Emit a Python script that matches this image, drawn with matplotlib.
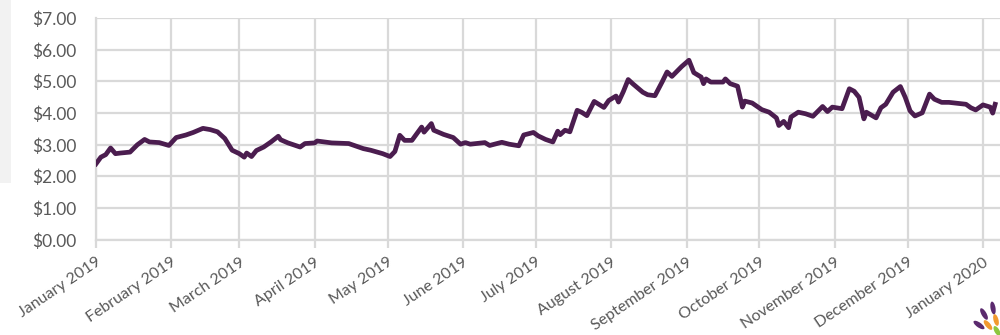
import numpy as np
import pandas as pd
import matplotlib.pyplot as plt
from matplotlib.patches import Rectangle, Ellipse

# price series
dates = ["2019-01-01", "2019-01-03", "2019-01-05", "2019-01-07", "2019-01-09", "2019-01-11",
         "2019-01-15", "2019-01-18", "2019-01-21", "2019-01-23", "2019-01-27", "2019-01-31",
         "2019-02-03", "2019-02-07", "2019-02-10", "2019-02-14", "2019-02-17", "2019-02-20",
         "2019-02-23", "2019-02-26", "2019-03-01", "2019-03-03", "2019-03-04", "2019-03-06",
         "2019-03-08", "2019-03-11", "2019-03-14", "2019-03-17", "2019-03-18", "2019-03-21",
         "2019-03-26", "2019-03-28", "2019-04-01", "2019-04-02", "2019-04-08", "2019-04-15",
         "2019-04-18", "2019-04-21", "2019-04-24", "2019-04-29", "2019-05-02", "2019-05-04",
         "2019-05-06", "2019-05-08", "2019-05-11", "2019-05-15", "2019-05-16", "2019-05-19",
         "2019-05-20", "2019-05-24", "2019-05-28", "2019-05-31", "2019-06-02", "2019-06-04",
         "2019-06-10", "2019-06-12", "2019-06-17", "2019-06-20", "2019-06-24", "2019-06-26",
         "2019-06-30", "2019-07-02", "2019-07-05", "2019-07-08", "2019-07-10", "2019-07-11",
         "2019-07-13", "2019-07-15", "2019-07-18", "2019-07-20", "2019-07-22", "2019-07-25",
         "2019-07-29", "2019-07-31", "2019-08-03", "2019-08-04", "2019-08-06", "2019-08-08",
         "2019-08-10", "2019-08-14", "2019-08-16", "2019-08-19", "2019-08-22", "2019-08-24",
         "2019-08-26", "2019-08-30", "2019-09-02", "2019-09-04", "2019-09-07", "2019-09-08",
         "2019-09-09", "2019-09-11", "2019-09-16", "2019-09-17", "2019-09-19", "2019-09-22",
         "2019-09-24", "2019-09-25", "2019-09-28", "2019-10-02", "2019-10-05", "2019-10-08",
         "2019-10-09", "2019-10-11", "2019-10-13", "2019-10-14", "2019-10-17", "2019-10-20",
         "2019-10-23", "2019-10-27", "2019-10-29", "2019-10-31", "2019-11-04", "2019-11-07",
         "2019-11-09", "2019-11-11", "2019-11-13", "2019-11-14", "2019-11-18", "2019-11-20",
         "2019-11-22", "2019-11-25", "2019-11-28", "2019-11-30", "2019-12-02", "2019-12-04",
         "2019-12-07", "2019-12-10", "2019-12-12", "2019-12-15", "2019-12-18", "2019-12-25",
         "2019-12-27", "2019-12-29", "2020-01-01", "2020-01-04", "2020-01-05", "2020-01-06"]
prices = [2.40, 2.61, 2.69, 2.90, 2.72, 2.74,
          2.77, 3.00, 3.17, 3.09, 3.07, 2.98,
          3.23, 3.31, 3.39, 3.52, 3.48, 3.41,
          3.20, 2.83, 2.72, 2.61, 2.74, 2.63,
          2.82, 2.93, 3.09, 3.27, 3.16, 3.06,
          2.93, 3.04, 3.06, 3.12, 3.06, 3.04,
          2.96, 2.88, 2.83, 2.72, 2.63, 2.79,
          3.30, 3.14, 3.14, 3.56, 3.40, 3.67,
          3.46, 3.33, 3.23, 3.02, 3.07, 3.02,
          3.07, 2.98, 3.08, 3.02, 2.97, 3.31,
          3.39, 3.28, 3.17, 3.09, 3.43, 3.32,
          3.46, 3.41, 4.09, 4.02, 3.92, 4.37,
          4.18, 4.40, 4.54, 4.35, 4.68, 5.06,
          4.92, 4.66, 4.58, 4.55, 4.99, 5.30,
          5.16, 5.47, 5.67, 5.28, 5.14, 4.93,
          5.08, 4.98, 4.98, 5.08, 4.93, 4.85,
          4.19, 4.38, 4.32, 4.11, 4.03, 3.85,
          3.61, 3.74, 3.54, 3.88, 4.03, 3.98,
          3.90, 4.21, 4.05, 4.19, 4.14, 4.77,
          4.69, 4.50, 3.82, 4.03, 3.85, 4.17,
          4.28, 4.66, 4.84, 4.50, 4.07, 3.91,
          4.01, 4.60, 4.44, 4.34, 4.34, 4.28,
          4.17, 4.10, 4.26, 4.19, 4.00, 4.28]
month_ticks = pd.date_range("2019-01-01", "2020-01-01", freq="MS")

dates = pd.to_datetime(dates)
line_color = "#4b1d4f"
grid_color = "#d9d9d9"
text_color = "#595959"

plt.rcParams["font.family"] = ["Lato", "DejaVu Sans"]

fig = plt.figure(figsize=(10, 3.35), dpi=100)
ax = fig.add_axes([0.096, 0.284, 0.904, 0.662])

# grey panel peeking in at top left
fig.patches.append(Rectangle((0, 0.455), 0.011, 0.545, transform=fig.transFigure,
                             facecolor="#f2f2f2", edgecolor="none", zorder=0))

ax.plot(dates, prices, color=line_color, lw=3.4, solid_joinstyle="round", zorder=3)

ax.set_ylim(0, 7)
ax.set_yticks(np.arange(0, 8, 1))
ax.yaxis.set_major_formatter(plt.FuncFormatter(lambda v, p: f"${v:.2f}"))
ax.set_xlim(pd.Timestamp("2019-01-01"), pd.Timestamp("2020-01-08"))
ax.set_xticks(month_ticks)
ax.set_xticklabels([d.strftime("%B %Y") for d in month_ticks], rotation=34,
                   ha="right", rotation_mode="anchor")

ax.grid(True, color=grid_color, lw=1.6)
ax.set_axisbelow(True)
for s in ["top", "right"]:
    ax.spines[s].set_visible(False)
for s in ["left", "bottom"]:
    ax.spines[s].set_color(grid_color)
    ax.spines[s].set_linewidth(1.6)
ax.tick_params(axis="x", colors=grid_color, length=6, width=1.6, labelsize=11.5,
               labelcolor=text_color, pad=5)
ax.tick_params(axis="y", length=0, labelsize=12.5, labelcolor=text_color, pad=14)

# small leaf logo in the corner (inches from bottom left)
leaves = [((9.79, 0.10), 0.05, 0.13, 55, "#5b2a6e"),
          ((9.84, 0.21), 0.05, 0.13, 30, "#5b2a6e"),
          ((9.93, 0.27), 0.05, 0.13, 10, "#5b2a6e"),
          ((9.88, 0.10), 0.05, 0.12, 40, "#f29a2e"),
          ((9.96, 0.15), 0.05, 0.12, 15, "#f29a2e"),
          ((9.97, 0.04), 0.05, 0.11, 30, "#8dc63f")]
for (xy, w, h, ang, c) in leaves:
    fig.patches.append(Ellipse(xy, w, h, angle=ang, transform=fig.dpi_scale_trans,
                               facecolor=c, edgecolor="none"))

fig.savefig("out.png", dpi=100)
